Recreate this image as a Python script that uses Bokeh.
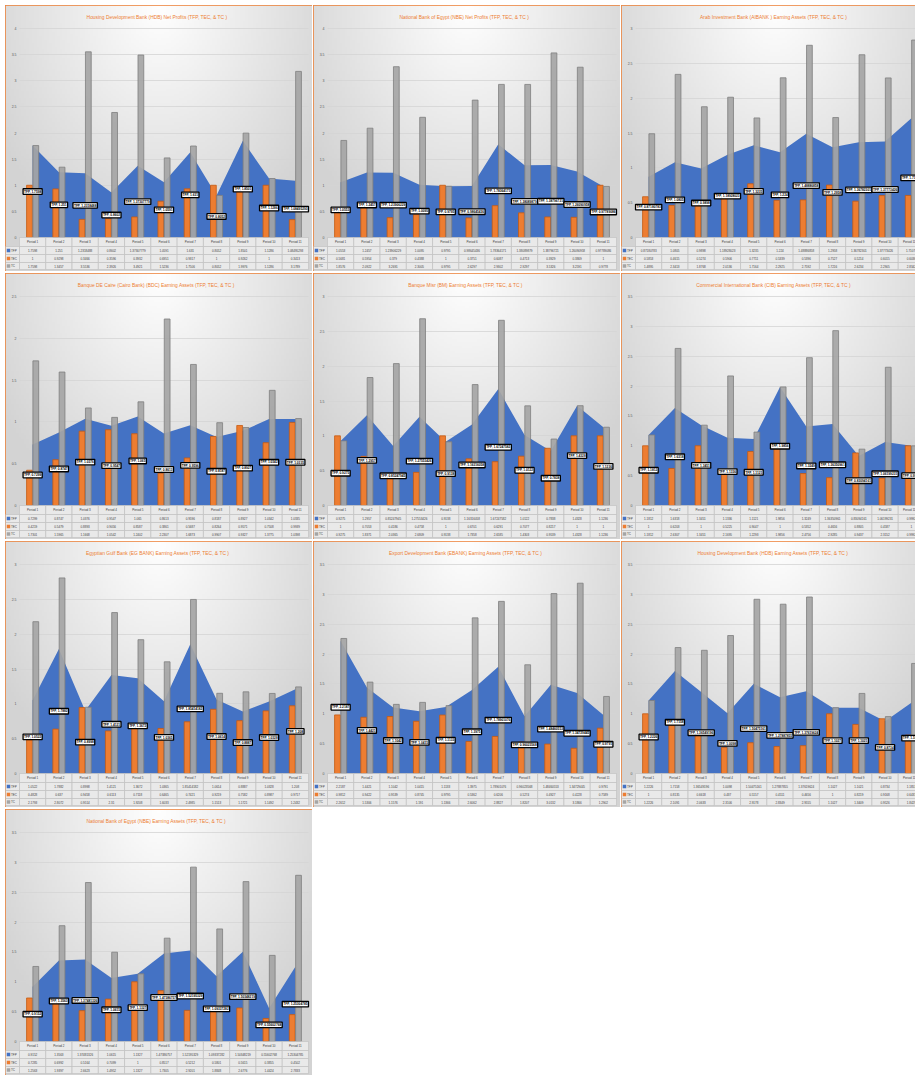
import numpy as np
from bokeh.plotting import figure
from bokeh.layouts import row, column
from bokeh.models import LinearAxis, FixedTicker, NumeralTickFormatter, CustomJSTickFormatter
from bokeh.core.properties import value
from bokeh.embed import file_html
from bokeh.resources import INLINE

# ---------------- data ----------------
PERIODS = ["Period 1", "Period 2", "Period 3", "Period 4", "Period 5", "Period 6",
           "Period 7", "Period 8", "Period 9", "Period 10", "Period 11"]
ROW_KEYS = ["TFP", "TEC", "TC"]

TITLES = [
    "Housing  Development Bank (HDB)  Net Profits  (TFP, TEC, & TC )",
    "National Bank of Egypt (NBE)   Net Profits   (TFP, TEC, & TC )",
    "Arab Investment Bank (AIBANK )  Earning Assets  (TFP, TEC, & TC )",
    "Banque DE Caire (Cairo Bank) (BDC)   Earning Assets   (TFP, TEC, & TC )",
    "Banque Misr (BM)  Earning Assets  (TFP, TEC, & TC )",
    "Commercial International Bank (CIB)  Earning Assets  (TFP, TEC, & TC )",
    "Egyptian Gulf Bank (EG BANK)  Earning Assets  (TFP, TEC, & TC )",
    "Export Development Bank (EBANK)  Earning Assets  (TFP, TEC, & TC )",
    "Housing  Development Bank (HDB)  Earning Assets  (TFP, TEC, & TC )",
    "National Bank of Egypt (NBE)   Earning Assets   (TFP, TEC, & TC )",
]
Y_MAX = [4, 4, 3, 2.5, 3, 3.5, 3, 3.5, 3.5, 3.5]

HDB_NP_TFP = [1.7598, 1.251, 1.2318488, 0.8602, 1.37307779, 1.0591, 1.631, 0.8052, 1.8501, 1.1286, 1.08495293]
HDB_NP_TEC = [1, 0.9298, 0.3466, 0.3596, 0.3932, 0.6951, 0.9317, 1, 0.9262, 1, 0.3413]
HDB_NP_TC = [1.7598, 1.3457, 3.5536, 2.3926, 3.4921, 1.5236, 1.7506, 0.8052, 1.9976, 1.1286, 3.1789]

NBE_NP_TFP = [1.0553, 1.2457, 1.23906229, 1.0095, 0.9795, 0.98645436, 1.78364171, 1.38089879, 1.38796721, 1.26090958, 0.97789086]
NBE_NP_TEC = [0.5681, 0.5954, 0.379, 0.4388, 1, 0.3751, 0.6087, 0.4713, 0.3929, 0.3869, 1]
NBE_NP_TC = [1.8576, 2.0922, 3.2691, 2.3005, 0.9795, 2.6297, 2.9302, 2.9297, 3.5326, 3.2591, 0.9778]

AIB_EA_TFP = [0.87180783, 1.0805, 0.9898, 1.18928023, 1.3235, 1.224, 1.48886858, 1.2958, 1.36782301, 1.37773426, 1.71073]
AIB_EA_TEC = [0.5853, 0.4615, 0.5274, 0.5906, 0.7711, 0.5339, 0.5396, 0.7527, 0.5214, 0.6015, 0.6036]
AIB_EA_TC = [1.4895, 2.3413, 1.8768, 2.0136, 1.7164, 2.2925, 2.7592, 1.7216, 2.6234, 2.2905, 2.8342]

BDC_EA_TFP = [0.7299, 0.8747, 1.0376, 0.9547, 1.065, 0.8613, 0.9596, 0.8187, 0.8927, 1.0342, 1.0335]
BDC_EA_TEC = [0.4219, 0.5479, 0.8893, 0.9056, 0.8587, 0.3861, 0.5687, 0.8264, 0.9571, 0.7508, 0.9939]
BDC_EA_TC = [1.7301, 1.5965, 1.1668, 1.0542, 1.2402, 2.2307, 1.6873, 0.9907, 0.9327, 1.3775, 1.0398]

BM_EA_TFP = [0.9275, 1.2957, 0.85247945, 1.27553426, 0.9138, 1.16316058, 1.67247582, 1.0122, 0.7838, 1.4328, 1.1236]
BM_EA_TEC = [1, 0.7053, 0.4186, 0.4758, 1, 0.6701, 0.6291, 0.7077, 0.8217, 1, 1]
BM_EA_TC = [0.9275, 1.8371, 2.0365, 2.6809, 0.9138, 1.7358, 2.6585, 1.4303, 0.9539, 1.4328, 1.1236]

CIB_EA_TFP = [1.1812, 1.6318, 1.3451, 1.1336, 1.1121, 1.9856, 1.3249, 1.36350961, 0.83094161, 1.06199231, 0.9992]
CIB_EA_TEC = [1, 0.6203, 1, 0.5225, 0.9047, 1, 0.5352, 0.4656, 0.8805, 0.4587, 1]
CIB_EA_TC = [1.1812, 2.6307, 1.3451, 2.1695, 1.2293, 1.9856, 2.4756, 2.9285, 0.9437, 2.3152, 0.9992]

EG_EA_TFP = [1.0522, 1.7882, 0.8998, 1.4121, 1.3672, 1.0365, 1.85414182, 1.0614, 0.8887, 1.0328, 1.208]
EG_EA_TEC = [0.4828, 0.637, 0.9458, 0.6113, 0.7118, 0.6465, 0.7421, 0.9219, 0.7582, 0.8987, 0.9717]
EG_EA_TC = [2.1793, 2.8072, 0.9514, 2.31, 1.9208, 1.6033, 2.4985, 1.1513, 1.1721, 1.1492, 1.2432]

EB_EA_TFP = [2.2187, 1.4421, 1.1042, 1.0415, 1.1133, 1.3975, 1.78901076, 0.96023568, 1.48460553, 1.34729445, 0.9791]
EB_EA_TEC = [0.9812, 0.9422, 0.9539, 0.8745, 0.9795, 0.5362, 0.6206, 0.5274, 0.4927, 0.4228, 0.7589]
EB_EA_TC = [2.2612, 1.5306, 1.1576, 1.191, 1.1366, 2.6062, 2.8827, 1.8207, 3.0132, 3.1866, 1.2902]

HDB_EA_TFP = [1.2226, 1.7158, 1.36549196, 1.0098, 1.50475161, 1.27887855, 1.37619624, 1.1027, 1.1021, 0.8734, 1.1851]
HDB_EA_TEC = [1, 0.8135, 0.6618, 0.437, 0.5157, 0.4511, 0.4656, 1, 0.8219, 0.9168, 0.6431]
HDB_EA_TC = [1.2226, 2.1091, 2.0633, 2.3106, 2.9178, 2.8349, 2.9555, 1.1027, 1.3409, 0.9526, 1.8429]

NBE_EA_TFP = [0.9152, 1.3563, 1.37481326, 1.0615, 1.1327, 1.47386757, 1.52195329, 1.09337282, 1.50348219, 0.55602768, 1.25304785]
NBE_EA_TEC = [0.7285, 0.6992, 0.5164, 0.7099, 1, 0.8517, 0.5212, 0.5801, 0.5615, 0.3855, 0.4502]
NBE_EA_TC = [1.2563, 1.9397, 2.6623, 1.4952, 1.1327, 1.7305, 2.9201, 1.8848, 2.6776, 1.4424, 2.7833]

SERIES = [
    (HDB_NP_TFP, HDB_NP_TEC, HDB_NP_TC),
    (NBE_NP_TFP, NBE_NP_TEC, NBE_NP_TC),
    (AIB_EA_TFP, AIB_EA_TEC, AIB_EA_TC),
    (BDC_EA_TFP, BDC_EA_TEC, BDC_EA_TC),
    (BM_EA_TFP, BM_EA_TEC, BM_EA_TC),
    (CIB_EA_TFP, CIB_EA_TEC, CIB_EA_TC),
    (EG_EA_TFP, EG_EA_TEC, EG_EA_TC),
    (EB_EA_TFP, EB_EA_TEC, EB_EA_TC),
    (HDB_EA_TFP, HDB_EA_TEC, HDB_EA_TC),
    (NBE_EA_TFP, NBE_EA_TEC, NBE_EA_TC),
]

# ---------------- style / geometry ----------------
BLUE = "#4472C4"
ORANGE = "#ED7D31"
ORANGE_EDGE = "#C55A11"
GRAY = "#A5A5A5"
GRAY_EDGE = "#7F7F7F"
FONT = "Liberation Sans"

W = 307          # full panel width
W3 = 294         # truncated third column
H = 266
KEY_PX = 14
RIGHT_PX = 4
S = (W - KEY_PX - RIGHT_PX) / 11.0
X0 = -0.5 - KEY_PX / S
X1_FULL = 10.5 + RIGHT_PX / S
TOP_PX = 23
ZERO_PX = 232
TABLE_ROWS_PX = [(0, 9), (9, 17), (17, 25), (25, 32)]


def make_bg():
    ny, nx = 120, 120
    yy, xx = np.mgrid[0:ny, 0:nx]
    fx = (xx + 0.5) / nx
    ftop = 1 - (yy + 0.5) / ny
    d = np.sqrt(((fx - 0.5) / 0.62) ** 2 + (ftop / 0.95) ** 2)
    v = (255 - 44 * np.clip(d, 0, 1)).astype(np.uint8)
    img = np.zeros((ny, nx), dtype=np.uint32)
    view = img.view(dtype=np.uint8).reshape((ny, nx, 4))
    view[:, :, 0] = v
    view[:, :, 1] = v
    view[:, :, 2] = v
    view[:, :, 3] = 255
    return img


BG = make_bg()


def panel(title, ymax, tfp, tec, tc, width):
    u = ymax / (ZERO_PX - TOP_PX)
    y0 = -(H - ZERO_PX) * u
    y1 = ymax + TOP_PX * u
    x1 = X0 + width / S
    p = figure(width=width, height=H, x_range=(X0, x1), y_range=(y0, y1),
               output_backend="svg", toolbar_location=None, tools="",
               x_axis_location=None, y_axis_location=None, min_border=0)
    p.outline_line_color = ORANGE
    p.outline_line_width = 1.3
    p.background_fill_color = "#eeeeee"
    p.border_fill_color = "white"

    # background gradient
    p.image_rgba(image=[BG], x=X0, y=y0, dw=X1_FULL - X0, dh=y1 - y0, level="image")

    ticks = [i * 0.5 for i in range(int(round(ymax / 0.5)) + 1)]
    p.xgrid.visible = False
    p.ygrid.ticker = FixedTicker(ticks=ticks)
    p.ygrid.grid_line_color = "#d4d4d4"
    p.ygrid.grid_line_width = 0.8
    try:
        p.ygrid.cross_bounds = (-0.5, X1_FULL - RIGHT_PX / S)
    except Exception:
        pass

    idx = list(range(len(PERIODS)))

    # TFP area
    p.varea(x=idx, y1=[0] * len(idx), y2=tfp, fill_color=BLUE)
    # TEC and TC bars
    p.vbar(x=[i - 0.12 for i in idx], width=0.22, top=tec, bottom=0,
           fill_color=ORANGE, line_color=ORANGE_EDGE, line_width=0.8)
    p.vbar(x=[i + 0.12 for i in idx], width=0.22, top=tc, bottom=0,
           fill_color=GRAY, fill_alpha=0.92, line_color=GRAY_EDGE, line_width=0.8)

    # TFP data labels
    p.text(x=idx, y=[v / 2 for v in tfp], text=[f"TFP, {v}" for v in tfp],
           text_font=value(FONT), text_font_style="bold", text_font_size="3.2px",
           text_color="black", text_align="center", text_baseline="middle",
           background_fill_color="white", border_line_color="black",
           border_line_width=1.3, padding=1)

    # title
    p.text(x=[(X0 + X1_FULL) / 2], y=[ymax + 11 * u], text=[title],
           text_font=value(FONT), text_font_size="4.9px", text_color=ORANGE,
           text_align="center", text_baseline="middle")

    # data table
    cell_fill = "#e9e9e9"
    cell_line = "#bdbdbd"
    t0, t1 = TABLE_ROWS_PX[0]
    p.rect(x=idx, y=-(t0 + t1) / 2 * u, width=1, height=(t1 - t0) * u,
           fill_color=cell_fill, line_color=cell_line, line_width=0.6)
    for ri, (vals, key, col) in enumerate(zip((tfp, tec, tc), ROW_KEYS, (BLUE, ORANGE, GRAY))):
        a, b = TABLE_ROWS_PX[ri + 1]
        yc = -(a + b) / 2 * u
        hh = (b - a) * u
        p.rect(x=idx, y=yc, width=1, height=hh,
               fill_color=cell_fill, line_color=cell_line, line_width=0.6)
        p.text(x=idx, y=[yc] * len(idx), text=[str(v) for v in vals],
               text_font=value(FONT), text_font_size="3px", text_color="#404040",
               text_align="center", text_baseline="middle")
        p.rect(x=[(X0 - 0.5) / 2], y=[yc], width=-0.5 - X0, height=hh,
               fill_color=cell_fill, line_color=cell_line, line_width=0.6)
        p.scatter(x=[X0 + 3 / S], y=[yc], marker="square", size=3.5,
                  fill_color=col, line_color=None)
        p.text(x=[X0 + 5.5 / S], y=[yc], text=[key],
               text_font=value(FONT), text_font_size="3px", text_color="#404040",
               text_align="left", text_baseline="middle")

    # axes (drawn inside the frame)
    yax = LinearAxis(fixed_location=-0.5, ticker=FixedTicker(ticks=ticks),
                     formatter=NumeralTickFormatter(format="0.[0]"))
    yax.axis_line_color = None
    yax.major_tick_line_color = None
    yax.minor_tick_line_color = None
    yax.major_tick_out = 0
    yax.major_tick_in = 0
    yax.major_label_standoff = 3
    yax.major_label_text_font = FONT
    yax.major_label_text_font_size = "3.5px"
    yax.major_label_text_color = "#595959"
    p.add_layout(yax, "left")

    xax = LinearAxis(fixed_location=0, ticker=FixedTicker(ticks=idx),
                     formatter=CustomJSTickFormatter(args=dict(labels=PERIODS),
                                                     code="const i = Math.round(tick); return (i >= 0 && i < labels.length) ? labels[i] : '';"))
    xax.axis_line_color = None
    xax.major_tick_line_color = None
    xax.minor_tick_line_color = None
    xax.major_tick_out = 0
    xax.major_tick_in = 0
    xax.major_label_standoff = 3
    xax.major_label_text_font = FONT
    xax.major_label_text_font_size = "3px"
    xax.major_label_text_color = "#404040"
    p.add_layout(xax, "below")
    return p


figs = []
for k in range(len(TITLES)):
    tfp, tec, tc = SERIES[k]
    width = W3 if k % 3 == 2 else W
    figs.append(panel(TITLES[k], Y_MAX[k], tfp, tec, tc, width))

layout = column(
    row(figs[0], figs[1], figs[2], spacing=1),
    row(figs[3], figs[4], figs[5], spacing=1),
    row(figs[6], figs[7], figs[8], spacing=1),
    row(figs[9], spacing=1),
    spacing=2,
    margin=(5, 0, 0, 5),
)

open("out.html", "w").write(file_html(layout, INLINE))
